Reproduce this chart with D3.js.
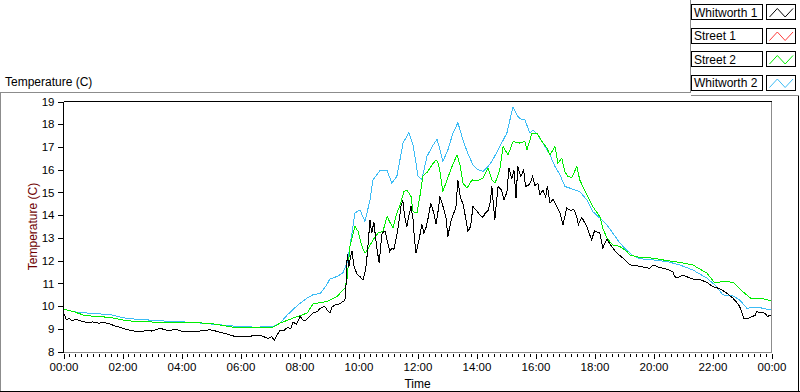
<!DOCTYPE html>
<html><head><meta charset="utf-8">
<script src="https://cdn.jsdelivr.net/npm/d3@7"></script>
<style>
html,body{margin:0;padding:0;background:#fff;}
svg{display:block;font-family:"Liberation Sans",Arial,sans-serif;}
</style></head><body>
<svg id="chart" width="800" height="392"></svg>
<script>
// ---- data ----
const seriesNames = ["Whitworth 1", "Street 1", "Street 2", "Whitworth 2"];
// [hour of day, temperature °C]
const whitworth1 = [[0,9.69],[0.05,9.55],[0.1,9.4],[0.2,9.45],[0.3,9.35],[0.4,9.42],[0.5,9.38],[0.65,9.32],[0.8,9.28],[1.0,9.3],[1.2,9.25],[1.4,9.27],[1.6,9.2],[1.75,9.12],[1.9,9.07],[2.05,9.0],[2.2,8.95],[2.4,8.9],[2.6,8.86],[2.8,8.92],[3.0,8.9],[3.15,8.97],[3.28,9.02],[3.45,8.95],[3.6,8.93],[3.8,8.97],[4.0,8.9],[4.2,8.88],[4.4,8.86],[4.6,8.9],[4.8,8.92],[4.95,8.96],[5.1,8.92],[5.3,8.85],[5.5,8.79],[5.7,8.7],[5.9,8.64],[6.1,8.68],[6.3,8.66],[6.5,8.72],[6.7,8.7],[6.85,8.62],[6.95,8.57],[7.05,8.66],[7.15,8.5],[7.25,8.75],[7.34,8.93],[7.45,8.9],[7.6,9.07],[7.7,9.0],[7.78,9.3],[7.9,9.2],[8.02,9.55],[8.1,9.4],[8.2,9.35],[8.35,9.55],[8.46,9.69],[8.6,9.75],[8.7,9.9],[8.85,10.0],[8.95,9.8],[9.03,9.69],[9.1,9.95],[9.2,10.05],[9.37,10.1],[9.47,10.2],[9.54,10.24],[9.58,11.0],[9.62,12.3],[9.67,11.7],[9.72,12.1],[9.78,12.4],[9.85,11.74],[9.95,11.4],[10.05,11.3],[10.15,11.15],[10.22,11.5],[10.27,11.9],[10.33,12.8],[10.39,13.79],[10.45,13.2],[10.52,13.7],[10.58,13.0],[10.63,12.5],[10.7,11.89],[10.75,12.6],[10.8,13.21],[10.9,13.3],[10.97,12.9],[11.06,12.4],[11.13,12.55],[11.2,12.5],[11.28,13.0],[11.35,13.5],[11.44,14.38],[11.5,14.67],[11.57,13.9],[11.64,13.5],[11.71,14.0],[11.78,14.38],[11.85,13.8],[11.9,12.9],[11.95,12.33],[12.05,12.9],[12.15,13.6],[12.22,13.2],[12.3,13.5],[12.38,14.0],[12.45,14.53],[12.55,14.1],[12.63,13.6],[12.7,14.2],[12.76,14.82],[12.86,14.4],[12.96,13.94],[13.03,13.06],[13.08,13.4],[13.13,13.7],[13.2,14.0],[13.3,14.3],[13.37,15.55],[13.45,14.8],[13.54,14.5],[13.63,13.9],[13.71,13.28],[13.8,13.5],[13.88,14.38],[14.0,14.2],[14.12,14.0],[14.22,13.9],[14.3,14.1],[14.39,14.2],[14.47,14.6],[14.52,15.26],[14.57,14.5],[14.62,13.79],[14.68,14.6],[14.73,15.26],[14.85,15.1],[14.93,14.67],[15.03,15.0],[15.1,16.07],[15.2,15.6],[15.27,15.99],[15.34,14.75],[15.4,16.14],[15.5,15.7],[15.6,15.99],[15.66,15.26],[15.8,15.35],[15.9,15.7],[15.98,15.3],[16.08,15.4],[16.15,14.89],[16.25,15.1],[16.35,14.8],[16.4,15.3],[16.49,14.53],[16.6,14.7],[16.72,14.38],[16.83,14.09],[16.93,13.57],[17.06,14.31],[17.2,14.2],[17.3,14.25],[17.4,13.94],[17.45,13.57],[17.57,13.9],[17.74,13.5],[17.9,12.91],[18.0,13.3],[18.18,13.21],[18.28,12.55],[18.42,12.95],[18.59,12.6],[18.76,12.33],[18.96,12.11],[19.2,11.81],[19.4,11.78],[19.54,11.74],[19.7,11.7],[19.88,11.66],[19.98,11.81],[20.2,11.7],[20.45,11.62],[20.65,11.52],[20.72,11.3],[20.79,11.23],[21.0,11.37],[21.15,11.28],[21.33,11.19],[21.6,11.15],[21.81,11.04],[22.01,10.86],[22.2,10.78],[22.35,10.68],[22.5,10.55],[22.69,10.35],[22.8,10.2],[22.92,9.98],[23.0,9.7],[23.06,9.44],[23.2,9.46],[23.36,9.54],[23.45,9.6],[23.5,9.76],[23.6,9.7],[23.7,9.72],[23.8,9.65],[23.87,9.54],[23.95,9.6],[24.0,9.57]];
const street1 = [];
const street2 = [[0,9.87],[0.33,9.76],[0.73,9.58],[1.58,9.5],[2.16,9.35],[3.28,9.28],[4.39,9.28],[5.07,9.22],[5.75,9.07],[7.1,9.07],[7.34,9.25],[7.78,9.47],[8.26,9.69],[8.46,10.1],[8.93,10.2],[9.27,10.42],[9.54,10.79],[9.61,11.19],[9.71,12.62],[9.88,13.5],[9.98,13.3],[10.12,12.62],[10.22,12.33],[10.32,12.5],[10.49,12.91],[10.66,13.21],[10.83,13.3],[10.97,13.94],[11.06,13.7],[11.17,13.43],[11.3,14.09],[11.4,14.4],[11.54,15.04],[11.64,15.11],[11.78,14.82],[11.85,14.16],[11.98,14.09],[12.08,14.82],[12.18,15.7],[12.35,15.92],[12.49,16.21],[12.63,16.43],[12.7,16.3],[12.76,15.92],[12.86,15.04],[13.0,15.55],[13.17,16.14],[13.34,16.65],[13.44,16.2],[13.54,15.41],[13.68,15.19],[13.85,15.55],[14.02,15.5],[14.22,15.63],[14.39,16.07],[14.52,15.55],[14.63,15.41],[14.79,15.99],[14.9,17.02],[15.07,16.65],[15.24,17.24],[15.47,17.17],[15.64,17.24],[15.71,16.87],[15.88,17.61],[16.05,17.61],[16.22,17.24],[16.39,16.95],[16.49,16.65],[16.66,17.02],[16.76,16.29],[16.89,16.5],[16.99,15.92],[17.1,15.7],[17.23,15.65],[17.4,16.14],[17.5,15.55],[17.74,14.89],[17.94,14.38],[18.18,13.94],[18.28,13.43],[18.42,12.99],[18.62,12.69],[18.86,12.62],[19.1,12.4],[19.2,12.25],[19.54,12.14],[19.98,12.11],[20.45,12.0],[20.89,11.92],[21.33,11.81],[21.81,11.45],[22.08,11.01],[22.35,11.08],[22.69,11.05],[23.02,10.64],[23.33,10.31],[23.6,10.35],[23.97,10.24]];
const whitworth2 = [[0,9.87],[0.33,9.75],[0.73,9.7],[1.58,9.62],[2.16,9.45],[3.28,9.35],[4.39,9.28],[5.07,9.2],[5.75,9.12],[6.5,9.07],[7.1,9.1],[7.34,9.25],[7.58,9.6],[7.78,9.85],[8.02,10.12],[8.26,10.35],[8.46,10.5],[8.7,10.55],[8.93,10.95],[9.03,11.19],[9.27,11.3],[9.47,11.46],[9.61,11.9],[9.71,12.62],[9.88,14.09],[10.05,14.23],[10.22,13.72],[10.39,14.67],[10.49,15.55],[10.73,15.96],[10.97,15.96],[11.13,15.41],[11.3,15.7],[11.51,17.17],[11.71,17.64],[11.85,17.09],[12.02,15.7],[12.15,15.58],[12.32,16.58],[12.49,17.0],[12.66,17.34],[12.76,16.9],[12.86,16.36],[13.03,16.87],[13.2,17.6],[13.37,18.07],[13.54,17.31],[13.71,16.7],[13.88,16.21],[14.05,16.0],[14.22,15.92],[14.39,16.14],[14.52,16.36],[14.66,16.7],[14.79,17.02],[15.03,17.61],[15.17,18.4],[15.24,18.75],[15.4,18.34],[15.54,18.19],[15.64,18.19],[15.81,17.61],[15.91,17.75],[16.08,17.53],[16.25,17.17],[16.49,16.65],[16.66,16.14],[16.83,15.77],[17.0,15.26],[17.16,15.19],[17.5,15.04],[17.74,14.67],[17.94,14.16],[18.18,13.87],[18.42,13.57],[18.62,13.21],[18.86,12.77],[19.1,12.45],[19.3,12.22],[19.54,12.08],[19.98,12.03],[20.45,11.96],[20.89,11.81],[21.33,11.59],[21.81,11.23],[22.14,10.86],[22.35,10.49],[22.69,10.45],[22.92,10.27],[23.16,9.91],[23.6,9.93],[23.97,9.83]];
const seriesData = [whitworth1, street1, street2, whitworth2];
const xTickHours = [0,2,4,6,8,10,12,14,16,18,20,22,24];
const xTickLabels = ["00:00","02:00","04:00","06:00","08:00","10:00","12:00","14:00","16:00","18:00","20:00","22:00","00:00"];
const yTickValues = [8,9,10,11,12,13,14,15,16,17,18,19];
const topLabel = "Temperature (C)";
const yTitle = "Temperature (C)";
const xTitle = "Time";

// ---- styles ----
const seriesColors = ["#000000", "#ff3c3c", "#00ee00", "#3cbcf5"];
const gray = "#8c8c8c";
const FONT = 11.5;

const svg = d3.select("#chart");
const x = d3.scaleLinear().domain([0, 24]).range([63.5, 771.5]);
const y = d3.scaleLinear().domain([8, 19]).range([351.5, 101.5]);

function seg(x1, y1, x2, y2, c) {
  svg.append("line").attr("x1", x1).attr("y1", y1).attr("x2", x2).attr("y2", y2)
    .attr("stroke", c).attr("stroke-width", 1).attr("shape-rendering", "crispEdges");
}
// outer frame
seg(0, 92.5, 690.5, 92.5, gray);
seg(690.5, 0, 690.5, 92.5, gray);
seg(690.5, 95.5, 799, 95.5, gray);
seg(0.5, 92.5, 0.5, 392, gray);
seg(0, 391.5, 800, 391.5, "#000");
seg(798.5, 95.5, 798.5, 392, "#000");

// top label
svg.append("text").attr("x", 5).attr("y", 86).attr("font-size", 12).attr("fill", "#000").text(topLabel);

// lines
const line = d3.line().x(d => x(d[0])).y(d => y(d[1]));
const drawOrder = [3, 2, 1, 0];
drawOrder.forEach(i => {
  if (!seriesData[i].length) return;
  svg.append("path").datum(seriesData[i]).attr("d", line)
    .attr("fill", "none").attr("stroke", seriesColors[i]).attr("stroke-width", 1)
    .attr("stroke-linejoin", "miter").attr("shape-rendering", "crispEdges");
});

// plot frame
seg(63.5, 101.5, 771.5, 101.5, "#000");
seg(63.5, 101.5, 63.5, 352, "#000");
seg(771.5, 101.5, 771.5, 353, gray);
seg(63.5, 352.5, 771.5, 352.5, gray);

// y axis
const yAxis = d3.axisLeft(y).tickValues(yTickValues).tickSize(6).tickPadding(3).tickFormat(d3.format("d"));
const gy = svg.append("g").attr("transform", "translate(63.5,0)").call(yAxis);
gy.select(".domain").remove();
gy.selectAll("line").attr("stroke", "#000").attr("shape-rendering", "crispEdges");
gy.selectAll("text").attr("font-size", FONT).attr("fill", "#000").attr("font-family", "Liberation Sans, Arial, sans-serif");

// x axis minor
const minorHours = d3.range(0, 24.001, 0.2).map(v => Math.round(v * 10) / 10);
const gxm = svg.append("g").attr("transform", "translate(0,353.5)")
  .call(d3.axisBottom(x).tickValues(minorHours).tickSize(3).tickFormat(""));
gxm.select(".domain").remove();
gxm.selectAll("line").attr("stroke", "#000").attr("shape-rendering", "crispEdges");

// x axis major
const gx = svg.append("g").attr("transform", "translate(0,353.5)")
  .call(d3.axisBottom(x).tickValues(xTickHours).tickSize(5).tickPadding(4)
    .tickFormat((d, i) => xTickLabels[i]));
gx.select(".domain").remove();
gx.selectAll("line").attr("stroke", "#000").attr("shape-rendering", "crispEdges");
gx.selectAll("text").attr("font-size", FONT).attr("fill", "#000").attr("font-family", "Liberation Sans, Arial, sans-serif");

// axis titles
svg.append("text").attr("x", (x.range()[0] + x.range()[1]) / 2).attr("y", 388)
  .attr("text-anchor", "middle").attr("font-size", 12).attr("fill", "#000").text(xTitle);
svg.append("text").attr("transform", `translate(33,${(y.range()[0] + y.range()[1]) / 2}) rotate(-90)`)
  .attr("text-anchor", "middle").attr("dominant-baseline", "central")
  .attr("font-size", 12).attr("fill", "#6e0000").text(yTitle);

// legend
seriesNames.forEach((name, i) => {
  const top = 4.5 + i * 23.5;
  svg.append("rect").attr("x", 691.5).attr("y", top).attr("width", 71).attr("height", 15)
    .attr("fill", "#fff").attr("stroke", "#000").attr("shape-rendering", "crispEdges");
  svg.append("text").attr("x", 694).attr("y", top + 12.3).attr("font-size", 12).attr("fill", "#000").text(name);
  svg.append("rect").attr("x", 766.5).attr("y", top).attr("width", 29).attr("height", 15)
    .attr("fill", "#fff").attr("stroke", "#000").attr("shape-rendering", "crispEdges");
  const sw = [[0, 0], [1, 1], [2, 0], [3, 1]];
  const sx = d3.scaleLinear().domain([0, 3]).range([769.5, 793]);
  const sy = d3.scaleLinear().domain([0, 1]).range([top + 12.5, top + 4]);
  svg.append("path").datum(sw).attr("d", d3.line().x(d => sx(d[0])).y(d => sy(d[1])))
    .attr("fill", "none").attr("stroke", seriesColors[i]).attr("stroke-width", 1);
});
</script>
</body></html>
